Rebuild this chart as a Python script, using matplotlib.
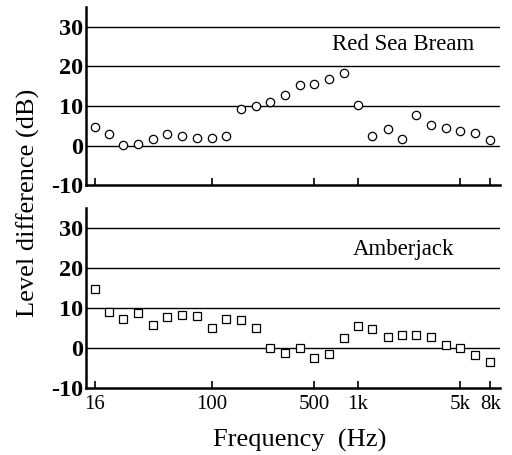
import matplotlib
matplotlib.use("Agg")
import matplotlib.pyplot as plt

plt.rcParams['font.family'] = ['Liberation Serif', 'DejaVu Serif']

# third-octave band centre frequencies (Hz)
freqs = [16, 20, 25, 31.5, 40, 50, 63, 80, 100, 125, 160, 200, 250, 315,
         400, 500, 630, 800, 1000, 1250, 1600, 2000, 2500, 3150, 4000,
         5000, 6300, 8000]

# level difference (dB)
red_sea_bream = [4.8, 2.9, 0.2, 0.4, 1.7, 2.8, 2.4, 1.8, 1.8, 2.5, 9.2, 10.1,
                 11.1, 12.7, 15.2, 15.5, 16.7, 18.3, 10.2, 2.3, 4.2, 1.7, 7.8,
                 5.3, 4.5, 3.7, 3.2, 1.4]
amberjack = [14.7, 9.0, 7.3, 8.7, 5.7, 7.7, 8.3, 8.0, 5.1, 7.2, 7.1, 4.9,
             0.1, -1.2, 0.0, -2.4, -1.6, 2.4, 5.5, 4.8, 2.8, 3.2, 3.2, 2.7,
             0.7, 0.0, -1.7, -3.6]

xticks = [16, 100, 500, 1000, 5000, 8000]
xticklabels = ['16', '100', '500', '1k', '5k', '8k']
yticks = [-10, 0, 10, 20, 30]

fig = plt.figure(figsize=(5.12, 4.55), dpi=100)
ax_top = fig.add_axes([0.168, 0.593, 0.809, 0.392])
ax_bot = fig.add_axes([0.168, 0.147, 0.809, 0.396])

panels = [(ax_top, red_sea_bream, 'o', 6.0, 'Red Sea Bream', 0.787),
          (ax_bot, amberjack, 's', 5.2, 'Amberjack', 0.767)]

for ax, vals, mk, ms, name, ty in panels:
    ax.set_xscale('log')
    ax.set_xlim(13.9, 9350)
    ax.set_ylim(-10, 35)
    for g in [0, 10, 20, 30]:
        ax.axhline(g, color='black', lw=1.0, zorder=1)
    ax.plot(freqs, vals, linestyle='none', marker=mk, ms=ms,
            mfc='white', mec='black', mew=0.9, zorder=3)
    ax.spines['top'].set_visible(False)
    ax.spines['right'].set_visible(False)
    ax.spines['left'].set_linewidth(1.8)
    ax.spines['bottom'].set_linewidth(1.8)
    ax.set_xticks(xticks)
    ax.xaxis.set_minor_locator(plt.NullLocator())
    ax.set_yticks(yticks)
    ax.set_yticklabels([str(v) for v in yticks], fontsize=17.5, fontweight='bold')
    ax.tick_params(axis='x', direction='in', length=5, width=1.2)
    ax.tick_params(axis='y', length=0, pad=2)
    ax.text(0.766, ty, name, transform=ax.transAxes, ha='center',
            va='center', fontsize=16.5)

ax_top.set_xticklabels([])
ax_bot.set_xticklabels(xticklabels, fontsize=15)
ax_bot.tick_params(axis='x', pad=5)
fig.text(0.586, 0.033, 'Frequency  (Hz)', ha='center', va='center',
         fontsize=19)
fig.text(0.055, 0.554, 'Level difference (dB)', rotation=90,
         ha='center', va='center', fontsize=19)

fig.savefig('out.png', dpi=100)
